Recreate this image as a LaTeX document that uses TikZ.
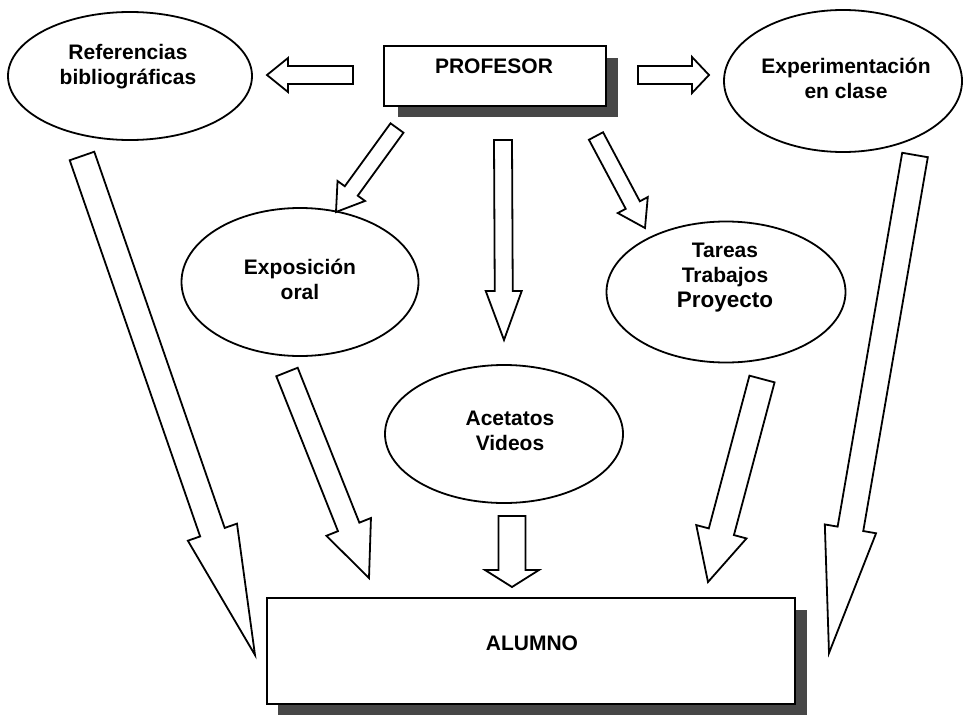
\documentclass[tikz,border=0pt]{standalone}
\usepackage{fontspec}
\setmainfont{Liberation Sans}
\usetikzlibrary{calc,shapes.geometric}
\tikzset{
  bubble/.style={draw, line width=1.8pt, ellipse, inner sep=0pt},
  lbl/.style={font=\fontsize{21}{25}\selectfont\bfseries, align=center, inner sep=0pt},
  boxnode/.style={draw, line width=2.1pt, fill=white, rectangle, inner sep=0pt},
  shadownode/.style={fill=black!72, rectangle, inner sep=0pt},
  blk/.style={draw, line width=1.8pt, line join=miter, fill=white},
}
\newcommand\blockarrow[5]{%
  \coordinate (ba) at ($(#2)!#5!(#1)$);
  \draw[blk] ($(#1)!#3!90:(#2)$) -- ($(ba)!#3!90:(#2)$) -- ($(ba)!#4!90:(#2)$) -- (#2)
    -- ($(ba)!#4!-90:(#2)$) -- ($(ba)!#3!-90:(#2)$) -- ($(#1)!#3!-90:(#2)$) -- cycle;
}
\begin{document}
\begin{tikzpicture}[x=1pt,y=-1pt]
\useasboundingbox (0,0) rectangle (964,715);

% ellipses
\node[bubble, minimum width=244pt, minimum height=128pt] (ref) at (130,76) {};
\node[lbl] (reft) at (128,67) {Referencias\\bibliográficas};
\node[bubble, minimum width=238pt, minimum height=142pt] (exp) at (843,81) {};
\node[lbl] (expt) at (846,78) {Experimentación\\en clase};
\node[bubble, minimum width=237pt, minimum height=148pt] (oral) at (300,282) {};
\node[lbl] (oralt) at (300,279) {Exposición\\oral};
\node[bubble, minimum width=238pt, minimum height=138pt] (acet) at (504,434) {};
\node[lbl] (acett) at (510,431) {Acetatos\\Videos};
\node[bubble, minimum width=239pt, minimum height=141pt] (tar) at (726,292) {};
\node[lbl] (tart) at (725,278) {Tareas\\Trabajos\\{\fontsize{22.5}{25}\selectfont Proyecto}};

% boxes
\node[shadownode, minimum width=220pt, minimum height=59pt] (profsh) at (508,87.5) {};
\node[boxnode, minimum width=222pt, minimum height=60pt] (prof) at (495,76) {};
\node[lbl] (proft) at (494,66) {PROFESOR};
\node[shadownode, minimum width=529pt, minimum height=105pt] (alsh) at (542.5,662.5) {};
\node[boxnode, minimum width=528pt, minimum height=106pt] (al) at (531,651) {};
\node[lbl] (alt) at (532,643) {ALUMNO};

% arrow end points
\coordinate (t1) at (353,75);  \coordinate (h1) at (267,75);
\coordinate (t2) at (638,75);  \coordinate (h2) at (709,75);
\coordinate (t3) at (397,128); \coordinate (h3) at (336,212);
\coordinate (t4) at (503,140); \coordinate (h4) at (504,340);
\coordinate (t5) at (596,136); \coordinate (h5) at (645,228);
\coordinate (t6) at (82,156);  \coordinate (h6) at (255,655);
\coordinate (t7) at (287,372); \coordinate (h7) at (369,578);
\coordinate (t8) at (512,516); \coordinate (h8) at (512,587);
\coordinate (t9) at (762,379); \coordinate (h9) at (708,582);
\coordinate (t10) at (915,155); \coordinate (h10) at (829,653);

\blockarrow{t1}{h1}{9pt}{17pt}{21pt}
\blockarrow{t2}{h2}{9pt}{18pt}{17pt}
\blockarrow{t3}{h3}{8pt}{17pt}{26pt}
\blockarrow{t4}{h4}{9pt}{18pt}{49pt}
\blockarrow{t5}{h5}{8pt}{17pt}{26pt}
\blockarrow{t6}{h6}{13pt}{26pt}{130pt}
\blockarrow{t7}{h7}{11.5pt}{24pt}{55pt}
\blockarrow{t8}{h8}{13.5pt}{27pt}{17pt}
\blockarrow{t9}{h9}{13pt}{26pt}{52pt}
\blockarrow{t10}{h10}{13pt}{26pt}{126pt}
\end{tikzpicture}
\end{document}
